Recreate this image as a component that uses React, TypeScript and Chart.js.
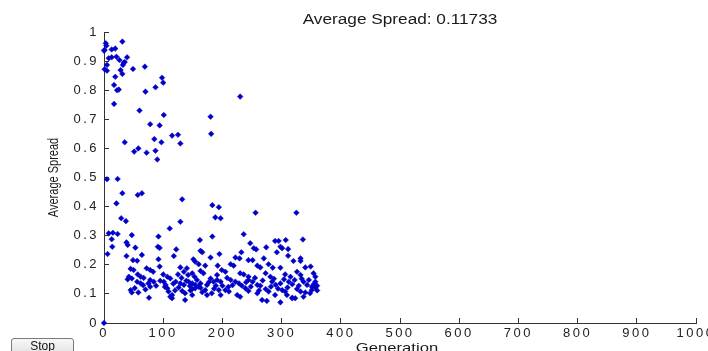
import React, { useEffect, useRef } from "react";
import { Chart, registerables } from "chart.js";

Chart.register(...registerables);

const titleText = "Average Spread: 0.11733";
const xLabel = "Generation";
const yLabel = "Average Spread";
const xTicksMax = 1000;
const yTicksMax = 1;

// Upper scattered points (generation, spread)
const upperGen = [3, 4, 1, 0, 13, 19, 31, 8, 13, 21, 26, 39, 5, 33, 35, 1, 5, 28, 32, 49, 69, 31, 19, 98, 100, 87, 70, 17, 22, 25, 17, 60, 101, 180, 181, 78, 94, 115, 125, 129, 85, 97, 35, 58, 51, 72, 87, 90, 230];
const upperVal = [0.961, 0.953, 0.938, 0.936, 0.94, 0.943, 0.967, 0.91, 0.913, 0.915, 0.904, 0.913, 0.887, 0.894, 0.897, 0.872, 0.867, 0.869, 0.887, 0.873, 0.881, 0.856, 0.846, 0.843, 0.826, 0.81, 0.795, 0.818, 0.8, 0.802, 0.753, 0.73, 0.715, 0.709, 0.65, 0.683, 0.679, 0.644, 0.647, 0.617, 0.632, 0.621, 0.621, 0.6, 0.589, 0.585, 0.592, 0.562, 0.778];

// Middle band points
const midGen = [5, 23, 31, 21, 57, 64, 132, 183, 194, 188, 197, 129, 29, 37, 8, 15, 23, 6, 13, 14, 38, 47, 53, 64, 38, 49, 92, 91, 111, 122, 118, 92, 162, 183, 163, 195, 151, 40, 94, 166, 56, 154, 180, 160, 171, 192, 256, 325, 236, 289, 295, 307, 336, 247, 253, 257, 274, 298, 301, 311, 232, 222, 229, 244, 251, 270, 292, 311, 332, 332, 320];
const midVal = [0.494, 0.495, 0.446, 0.411, 0.44, 0.446, 0.425, 0.405, 0.398, 0.363, 0.36, 0.348, 0.36, 0.35, 0.308, 0.31, 0.306, 0.237, 0.288, 0.262, 0.277, 0.302, 0.259, 0.234, 0.23, 0.216, 0.297, 0.262, 0.325, 0.253, 0.23, 0.219, 0.285, 0.297, 0.248, 0.237, 0.219, 0.268, 0.258, 0.243, 0.214, 0.211, 0.225, 0.202, 0.197, 0.197, 0.379, 0.379, 0.305, 0.282, 0.282, 0.285, 0.287, 0.274, 0.257, 0.253, 0.26, 0.262, 0.257, 0.254, 0.243, 0.225, 0.222, 0.216, 0.216, 0.222, 0.243, 0.231, 0.222, 0.213, 0.213];

// Dense lower cluster
const lowGen = [0, 45, 50, 72, 78, 83, 94, 129, 140, 42, 47, 57, 62, 67, 78, 84, 100, 107, 112, 125, 135, 142, 149, 153, 163, 168, 180, 191, 56, 62, 75, 101, 104, 121, 129, 135, 143, 149, 154, 163, 174, 185, 45, 47, 78, 107, 109, 115, 132, 137, 149, 154, 163, 171, 182, 194, 197, 76, 112, 115, 137, 149, 174,
  214, 219, 259, 264, 278, 285, 298, 340, 349, 199, 205, 230, 236, 244, 273, 281, 306, 315, 326, 332, 354, 357, 191, 197, 214, 222, 228, 244, 251, 259, 264, 284, 290, 298, 312, 318, 337, 343, 351, 357, 205, 211, 239, 244, 273, 278, 301, 306, 326, 332, 340, 351, 357, 225, 230, 259, 289, 309, 318, 337, 267, 275, 298, 318, 323,
  40, 52, 58, 66, 70, 88, 95, 103, 117, 120, 126, 131, 139, 145, 146, 157, 160, 166, 177, 186, 189, 200, 208, 210, 217, 233, 240, 248, 255, 262, 268, 282, 287, 294, 304, 310, 322, 329, 334, 346, 348, 355, 360, 360];
const lowVal = [0.0, 0.186, 0.182, 0.188, 0.182, 0.176, 0.194, 0.191, 0.188, 0.159, 0.153, 0.167, 0.159, 0.155, 0.148, 0.142, 0.167, 0.159, 0.153, 0.167, 0.176, 0.165, 0.171, 0.159, 0.179, 0.171, 0.153, 0.165, 0.142, 0.136, 0.136, 0.142, 0.131, 0.142, 0.136, 0.131, 0.142, 0.136, 0.131, 0.136, 0.131, 0.142, 0.113, 0.105, 0.125, 0.119, 0.108, 0.096, 0.11, 0.102, 0.117, 0.119, 0.121, 0.113, 0.102, 0.113, 0.096, 0.087, 0.09, 0.085, 0.079, 0.096, 0.096,
  0.202, 0.197, 0.197, 0.191, 0.202, 0.19, 0.19, 0.191, 0.194, 0.182, 0.176, 0.171, 0.167, 0.159, 0.171, 0.159, 0.167, 0.159, 0.176, 0.165, 0.171, 0.159, 0.148, 0.142, 0.148, 0.142, 0.136, 0.148, 0.142, 0.131, 0.128, 0.142, 0.131, 0.136, 0.142, 0.133, 0.142, 0.131, 0.125, 0.142, 0.113, 0.108, 0.119, 0.11, 0.117, 0.108, 0.113, 0.108, 0.117, 0.108, 0.105, 0.113, 0.121, 0.096, 0.09, 0.102, 0.096, 0.096, 0.087, 0.09, 0.079, 0.076, 0.071, 0.085, 0.085,
  0.15, 0.12, 0.105, 0.13, 0.115, 0.128, 0.145, 0.124, 0.135, 0.112, 0.122, 0.155, 0.145, 0.127, 0.112, 0.148, 0.125, 0.106, 0.14, 0.118, 0.128, 0.128, 0.155, 0.124, 0.13, 0.128, 0.14, 0.125, 0.155, 0.112, 0.146, 0.125, 0.152, 0.118, 0.15, 0.122, 0.148, 0.128, 0.152, 0.148, 0.102, 0.135, 0.128, 0.112];

const FONT = "'Liberation Sans', Arial, Helvetica, sans-serif";
const TICK_SPACING = "2.5px";

const textPlugin = {
  id: "matlabText",
  beforeUpdate(chart: any) {
    chart.ctx.letterSpacing = TICK_SPACING;
  },
  beforeDraw(chart: any) {
    chart.ctx.letterSpacing = TICK_SPACING;
  },
  afterDraw(chart: any) {
    const ctx = chart.ctx as CanvasRenderingContext2D;
    const area = chart.chartArea;
    const cx = (area.left + area.right) / 2;
    ctx.save();
    (ctx as any).letterSpacing = "0px";
    ctx.fillStyle = "#1a1a1a";
    // title
    ctx.save();
    ctx.font = `14px ${FONT}`;
    ctx.textAlign = "center";
    ctx.textBaseline = "alphabetic";
    ctx.translate(cx, 23.5);
    ctx.scale(1.23, 1);
    ctx.fillText(titleText, 0, 0);
    ctx.restore();
    // x label
    ctx.save();
    ctx.font = `13px ${FONT}`;
    ctx.textAlign = "center";
    ctx.textBaseline = "alphabetic";
    ctx.translate(cx - 3, 351.5);
    ctx.scale(1.28, 1);
    ctx.fillText(xLabel, 0, 0);
    ctx.restore();
    // y label
    ctx.save();
    ctx.font = `11px ${FONT}`;
    ctx.textAlign = "center";
    ctx.textBaseline = "middle";
    ctx.translate(54, (area.top + area.bottom) / 2);
    ctx.rotate(-Math.PI / 2);
    ctx.scale(1, 1.3);
    ctx.fillText(yLabel, 0, 0);
    ctx.restore();
    ctx.restore();
  },
};

export default function App() {
  const ref = useRef<HTMLCanvasElement | null>(null);
  useEffect(() => {
    if (!ref.current) return;
    const toPts = (g: number[], v: number[]) => g.map((x, i) => ({ x, y: v[i] }));
    const data = [...toPts(upperGen, upperVal), ...toPts(midGen, midVal), ...toPts(lowGen, lowVal)];
    const chart = new Chart(ref.current, {
      type: "scatter",
      data: {
        datasets: [
          {
            data,
            clip: false,
            pointStyle: "rectRot",
            pointRadius: 2.8,
            pointBackgroundColor: "#0000c8",
            pointBorderColor: "#0000c8",
            pointBorderWidth: 0.5,
          },
        ],
      },
      options: {
        responsive: false,
        animation: false,
        devicePixelRatio: 1,
        layout: { padding: { top: 32, right: 12, left: 0, bottom: 0 } },
        plugins: { legend: { display: false }, tooltip: { enabled: false }, title: { display: false } },
        scales: {
          x: {
            type: "linear",
            min: 0,
            max: xTicksMax,
            ticks: {
              stepSize: 100,
              color: "#222",
              font: { family: FONT, size: 13 },
              padding: 8,
              maxRotation: 0,
              callback: (v: any) => String(Math.round(Number(v))),
            },
            grid: { drawOnChartArea: false, tickLength: -5, color: "#333", lineWidth: 1 },
            border: { display: true, color: "#333", width: 1 },
            afterFit(scale: any) {
              scale.height = 28;
              scale.paddingLeft = 0;
              scale.paddingRight = 0;
            },
          },
          y: {
            type: "linear",
            min: 0,
            max: yTicksMax,
            ticks: {
              stepSize: 0.1,
              color: "#222",
              font: { family: FONT, size: 13 },
              padding: 10,
              callback: (v: any) => String(Number(Number(v).toFixed(1))),
            },
            grid: { drawOnChartArea: false, tickLength: -5, color: "#333", lineWidth: 1 },
            border: { display: true, color: "#333", width: 1 },
            afterFit(scale: any) {
              scale.width = 104;
              scale.paddingTop = 0;
              scale.paddingBottom = 0;
            },
          },
        },
      },
      plugins: [textPlugin],
    } as any);
    return () => chart.destroy();
  }, []);
  return (
    <div style={{ position: "absolute", left: 0, top: 0, width: 708, height: 351, overflow: "hidden", background: "#fff" }}>
      <canvas ref={ref} width={708} height={351} style={{ display: "block" }} />
      <div
        style={{
          position: "absolute",
          left: 11,
          top: 338,
          width: 63,
          height: 20,
          border: "1px solid #7a7a7a",
          borderRadius: 3,
          background: "linear-gradient(#f8f8f8, #dedede)",
          fontFamily: FONT,
          fontSize: 12,
          color: "#111",
          textAlign: "center",
          lineHeight: "15px",
          boxSizing: "border-box",
        }}
      >
        Stop
      </div>
    </div>
  );
}
